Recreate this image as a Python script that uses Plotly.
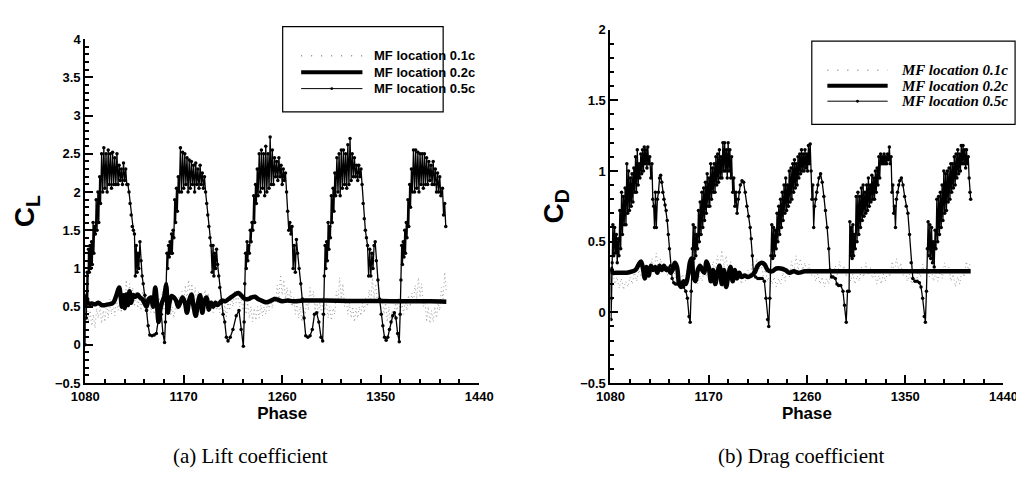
import plotly.graph_objects as go

W, H = 1024, 477

# ---------------- Lift coefficient (C_L) ----------------
cl_x_05 = [1080.0, 1080.4, 1081.0, 1081.6, 1082.3, 1083.0, 1083.7, 1084.4, 1085.1, 1085.8, 1086.5, 1087.2, 1087.9, 1088.6,
           1089.3, 1090.0, 1090.8, 1091.6, 1092.4, 1093.2, 1094.0,
           1095, 1096, 1097, 1098, 1099, 1100, 1101, 1102, 1103, 1104, 1105, 1106, 1107, 1108, 1109, 1110, 1111, 1112,
           1113, 1114, 1115, 1116, 1117, 1118,
           1119, 1120, 1121, 1122, 1123, 1124, 1125, 1125.8, 1126.6, 1127.4, 1128.2, 1129, 1130, 1131, 1132, 1133,
           1134.5, 1136, 1137.5, 1139, 1141, 1143, 1145, 1146.5, 1148, 1149.5, 1151, 1152.5,
           1153.3, 1154, 1154.7, 1155.4, 1156.1, 1156.8, 1157.5, 1158.2, 1158.9, 1159.6, 1160.3, 1161, 1161.8, 1162.6,
           1163.4, 1164.2, 1165,
           1166, 1167, 1168, 1169, 1170, 1171, 1172, 1173, 1174, 1175, 1176, 1177, 1178, 1179, 1180, 1181, 1182, 1183,
           1184, 1185, 1186, 1187, 1188, 1189,
           1190, 1191, 1192, 1193, 1194, 1195, 1196, 1196.8, 1197.6, 1198.4, 1199.2, 1200, 1201, 1202, 1203, 1204.5,
           1206, 1207.5, 1209, 1210.5, 1212.5, 1215, 1218, 1220.5, 1222.5, 1224.5,
           1225.2, 1225.8, 1226.5, 1227.2, 1227.9, 1228.6, 1229.3, 1230, 1230.8, 1231.6, 1232.4, 1233.2, 1234, 1234.8,
           1235.6, 1236.4, 1237.2, 1238,
           1239, 1240, 1241, 1242, 1243, 1244, 1245, 1246, 1247, 1248, 1249, 1250, 1251, 1252, 1253, 1254, 1255, 1256,
           1257, 1258, 1259, 1260, 1261, 1262, 1263, 1264,
           1265, 1266, 1267, 1268, 1269, 1270, 1271, 1272, 1273, 1274, 1275.5, 1277, 1278.5, 1280, 1281.5, 1283.5,
           1285.5, 1287.5, 1289.5, 1291.5, 1293.5, 1295.5, 1297,
           1297.8, 1298.5, 1299.2, 1299.9, 1300.6, 1301.3, 1302, 1302.7, 1303.4, 1304.1, 1304.9, 1305.7, 1306.5, 1307.3,
           1308.1, 1308.9,
           1310, 1311, 1312, 1313, 1314, 1315, 1316, 1317, 1318, 1319, 1320, 1321, 1322, 1323, 1324, 1325, 1326, 1327,
           1328, 1329, 1330, 1331, 1332, 1333,
           1334, 1335, 1336, 1337, 1338, 1339, 1340, 1341, 1342, 1343, 1344, 1345, 1346, 1347.5, 1349, 1350.5, 1352,
           1353.5, 1355, 1356.5, 1358, 1359.5, 1361, 1362.5, 1364, 1365.5, 1367,
           1367.8, 1368.5, 1369.2, 1369.9, 1370.6, 1371.3, 1372, 1372.7, 1373.4, 1374.1, 1374.9, 1375.7, 1376.5, 1377.3,
           1378.1, 1378.9,
           1380, 1381, 1382, 1383, 1384, 1385, 1386, 1387, 1388, 1389, 1390, 1391, 1392, 1393, 1394, 1395, 1396, 1397,
           1398, 1399, 1400, 1401, 1402, 1403, 1404, 1405, 1406.5, 1407.5, 1408.5, 1409.5]
cl_y_05 = [0.0, 0.65, 0.35, 0.95, 0.6, 1.25, 0.95, 1.3, 1.0, 1.35, 1.05, 1.6, 1.2, 1.55,
           1.45, 1.9, 1.5, 2.0, 1.6, 2.2, 1.85,
           2.5, 2.0, 2.58, 2.05, 2.5, 2.0, 2.55, 2.1, 2.5, 2.05, 2.52, 2.1, 2.45, 2.1, 2.5, 2.1, 2.35, 2.15,
           2.3, 2.1, 2.38, 2.15, 2.3, 2.1,
           2.1, 2.0, 1.85, 1.7, 1.55, 1.5, 1.45, 0.9, 1.3, 0.95, 1.2, 1.0, 1.35, 1.1, 0.9, 0.8,
           0.65, 0.45, 0.25, 0.13, 0.12, 0.13, 0.15, 0.3, 0.45, 0.4, 0.15, 0.03,
           0.3, 0.8, 1.2, 1.0, 1.3, 1.15, 1.35, 1.2, 1.45, 1.2, 1.5, 1.4, 1.9, 1.6,
           2.05, 1.75, 2.2,
           2.0, 2.58, 2.0, 2.52, 2.05, 2.5, 2.1, 2.45, 2.0, 2.42, 2.05, 2.4, 2.1, 2.35, 2.0, 2.38, 2.1, 2.3,
           2.05, 2.35, 2.1, 2.25, 2.05, 2.2,
           2.0, 1.85, 1.7, 1.55, 1.4, 1.3, 0.95, 1.3, 0.9, 1.2, 1.0, 1.25, 1.05, 0.9, 0.75, 0.55,
           0.4, 0.3, 0.1, 0.05, 0.1, 0.2, 0.38, 0.45, 0.2, -0.02,
           0.3, 0.8, 1.2, 1.0, 1.35, 1.1, 1.3, 1.2, 1.5, 1.35, 1.6, 1.5, 1.95, 1.6,
           2.1, 1.85, 2.3, 1.95,
           2.5, 2.0, 2.55, 2.05, 2.5, 1.95, 2.6, 2.0, 2.5, 2.05, 2.72, 2.1, 2.55, 2.1, 2.45, 2.2, 2.4, 2.15,
           2.45, 2.2, 2.35, 2.1, 2.3, 2.15, 2.25, 2.0,
           1.75, 1.5, 1.6, 1.45, 1.55, 1.0, 1.3, 0.95, 1.38, 1.2, 1.0, 0.8, 0.6, 0.35, 0.12, 0.1,
           0.12, 0.2, 0.4, 0.42, 0.3, 0.1, 0.05,
           0.4, 0.9, 1.3, 1.0, 1.35, 1.1, 1.6, 1.25, 1.55, 1.4, 1.95, 1.6, 2.05, 1.75,
           2.25, 1.95,
           2.45, 2.0, 2.5, 1.95, 2.55, 2.05, 2.55, 2.1, 2.5, 2.05, 2.62, 2.1, 2.7, 2.15, 2.5, 2.2, 2.45, 2.2,
           2.35, 2.15, 2.35, 2.2, 2.3, 2.1,
           1.85, 1.65, 1.5, 1.4, 1.3, 0.9, 1.25, 0.9, 1.2, 1.0, 1.3, 1.35, 1.1, 0.85, 0.6, 0.4, 0.25,
           0.1, 0.06, 0.1, 0.2, 0.3, 0.38, 0.42, 0.35, 0.15, 0.04,
           0.4, 0.85, 1.3, 1.05, 1.35, 1.15, 1.5, 1.2, 1.6, 1.4, 1.9, 1.55, 2.1, 1.8,
           2.3, 2.0,
           2.55, 2.0, 2.55, 2.05, 2.52, 2.0, 2.5, 2.1, 2.5, 2.05, 2.5, 2.1, 2.45, 2.1, 2.4, 2.15, 2.35, 2.1,
           2.4, 2.1, 2.3, 2.0, 2.25, 2.0, 2.2, 1.95, 2.05, 1.7, 1.85, 1.55]

cl_x_02 = [1080, 1080.5, 1081.5, 1083, 1086, 1089, 1092, 1095, 1098, 1101, 1104, 1106, 1108.5, 1111, 1112.5, 1113.5,
           1115, 1116, 1117.5, 1119, 1120.5, 1122, 1124, 1126, 1128, 1130, 1132, 1134, 1136, 1138, 1140, 1142,
           1144, 1145.5, 1147, 1148.5, 1150, 1152, 1154, 1155.5, 1157, 1159, 1161, 1163, 1165, 1167, 1169, 1171,
           1173, 1175, 1177, 1179, 1181, 1183, 1185, 1187, 1189, 1191, 1193, 1195, 1197, 1199, 1201, 1203, 1205,
           1208, 1211, 1214, 1217, 1220, 1223, 1226, 1229, 1232, 1235, 1238, 1241, 1244, 1247, 1250, 1253, 1256,
           1260, 1265, 1270, 1280, 1300, 1320, 1340, 1360, 1380, 1395, 1410]
cl_y_02 = [0.5, 0.62, 0.58, 0.54, 0.54, 0.53, 0.55, 0.52, 0.52, 0.53, 0.54, 0.56, 0.65, 0.75, 0.62, 0.5,
           0.65, 0.48, 0.66, 0.52, 0.7, 0.55, 0.65, 0.63, 0.66, 0.62, 0.6, 0.55, 0.5, 0.6, 0.62, 0.5,
           0.75, 0.55, 0.3, 0.45, 0.55, 0.62, 0.78, 0.42, 0.55, 0.64, 0.62, 0.58, 0.5, 0.56, 0.62, 0.56,
           0.42, 0.58, 0.66, 0.5, 0.38, 0.55, 0.65, 0.42, 0.58, 0.62, 0.46, 0.55, 0.5, 0.55, 0.52, 0.55, 0.58,
           0.57, 0.6, 0.63, 0.66, 0.68, 0.64, 0.6, 0.6, 0.62, 0.63, 0.6, 0.58, 0.56, 0.56, 0.58, 0.6, 0.59,
           0.57, 0.58, 0.57, 0.58, 0.58, 0.575, 0.575, 0.57, 0.57, 0.57, 0.565]

cl_x_01 = [1082, 1083, 1084.5, 1086, 1087.5, 1089, 1090.5, 1092, 1093.5, 1095, 1096.5, 1098, 1099.5, 1101, 1102.5,
           1104, 1105.5, 1107, 1108.5, 1110, 1111.5, 1113, 1114.5, 1116, 1117.5, 1119, 1120.5, 1122, 1123.5, 1125,
           1126.5, 1128, 1129.5, 1131, 1132.5, 1134, 1135.5, 1137, 1138.5, 1140, 1141.5, 1143, 1144.5, 1146, 1147.5,
           1149, 1150.5, 1152, 1153.5, 1155, 1156.5, 1158, 1159.5, 1161, 1162.5, 1164, 1165.5, 1167, 1168.5, 1170,
           1171.5, 1173, 1174.5, 1176, 1177.5, 1179, 1180.5, 1182, 1183.5, 1185, 1186.5, 1188, 1189.5, 1191, 1192.5,
           1194, 1195.5, 1197, 1198.5, 1200, 1201.5, 1203, 1204.5, 1206, 1207.5, 1209, 1210.5, 1212, 1213.5, 1215,
           1216.5, 1218, 1219.5, 1221, 1222.5, 1224, 1225.5, 1227, 1228.5, 1230, 1231.5, 1233, 1234.5, 1236, 1237.5,
           1239, 1240.5, 1242, 1243.5, 1245, 1246.5, 1248, 1249.5, 1251, 1252.5, 1254, 1255.5, 1257, 1258.5, 1260,
           1261.5, 1263, 1264.5, 1266, 1267.5, 1269, 1270.5, 1272, 1273.5, 1275, 1276.5, 1278, 1279.5, 1281, 1282.5,
           1284, 1285.5, 1287, 1288.5, 1290, 1291.5, 1293, 1294.5, 1296, 1297.5, 1299, 1300.5, 1302, 1303.5, 1305,
           1306.5, 1308, 1309.5, 1311, 1312.5, 1314, 1315.5, 1317, 1318.5, 1320, 1321.5, 1323, 1324.5, 1326, 1327.5,
           1329, 1330.5, 1332, 1333.5, 1335, 1336.5, 1338, 1339.5, 1341, 1342.5, 1344, 1345.5, 1347, 1348.5, 1350,
           1351.5, 1353, 1354.5, 1356, 1357.5, 1359, 1360.5, 1362, 1363.5, 1365, 1366.5, 1368, 1369.5, 1371, 1372.5,
           1374, 1375.5, 1377, 1378.5, 1380, 1381.5, 1383, 1384.5, 1386, 1387.5, 1389, 1390.5, 1392, 1393.5, 1395,
           1396.5, 1398, 1399.5, 1401, 1402.5, 1404, 1405.5, 1407, 1408.5, 1410]
cl_y_01 = [0.55, 0.3, 0.45, 0.25, 0.4, 0.22, 0.48, 0.35, 0.5, 0.28, 0.45, 0.3, 0.55, 0.35, 0.6,
           0.4, 0.55, 0.38, 0.62, 0.45, 0.58, 0.42, 0.65, 0.5, 0.85, 0.6, 0.8, 0.55, 0.75, 0.5,
           0.7, 0.48, 0.62, 0.45, 0.7, 0.5, 0.65, 0.4, 0.6, 0.42, 0.55, 0.4, 0.6, 0.45, 0.62,
           0.5, 0.7, 0.45, 0.6, 0.4, 0.55, 0.38, 0.5, 0.35, 0.5, 0.45, 0.62, 0.5, 0.7, 0.55,
           0.78, 0.6, 0.85, 0.62, 0.8, 0.55, 0.75, 0.5, 0.7, 0.45, 0.68, 0.5, 0.72, 0.55, 0.68,
           0.48, 0.6, 0.42, 0.6, 0.45, 0.55, 0.42, 0.6, 0.38, 0.52, 0.35, 0.58, 0.45, 0.65, 0.5,
           0.7, 0.55, 0.68, 0.5, 0.62, 0.45, 0.58, 0.4, 0.55, 0.35, 0.5, 0.3, 0.48, 0.32, 0.5,
           0.35, 0.52, 0.38, 0.5, 0.4, 0.55, 0.45, 0.6, 0.48, 0.65, 0.55, 0.78, 0.6, 0.92, 0.65,
           0.85, 0.6, 0.75, 0.55, 0.72, 0.5, 0.62, 0.4, 0.55, 0.35, 0.5, 0.3, 0.48, 0.4, 0.6,
           0.45, 0.75, 0.55, 0.7, 0.45, 0.6, 0.4, 0.55, 0.38, 0.62, 0.45, 0.55, 0.35, 0.5, 0.32,
           0.48, 0.4, 0.7, 0.55, 0.88, 0.6, 0.8, 0.5, 0.6, 0.4, 0.55, 0.35, 0.5, 0.3, 0.48,
           0.35, 0.5, 0.38, 0.55, 0.42, 0.62, 0.5, 0.72, 0.55, 0.88, 0.6, 0.8, 0.55, 0.7, 0.5,
           0.62, 0.4, 0.55, 0.3, 0.5, 0.28, 0.45, 0.35, 0.55, 0.45, 0.62, 0.42, 0.55, 0.4, 0.6,
           0.45, 0.65, 0.5, 0.68, 0.55, 0.78, 0.6, 0.88, 0.62, 0.8, 0.5, 0.6, 0.3, 0.5, 0.28,
           0.45, 0.3, 0.5, 0.35, 0.55, 0.45, 0.75, 0.6, 0.95, 0.7]

# ---------------- Drag coefficient (C_D) ----------------
cd_x_05 = [1080, 1080.5, 1081, 1081.5, 1082.2, 1083, 1083.8, 1084.6, 1085.4, 1086.2, 1087, 1087.8, 1088.6, 1089.4,
           1090.2, 1091, 1091.8, 1092.6, 1093.4, 1094.2, 1095, 1095.8, 1096.6, 1097.4, 1098.2, 1099, 1099.8, 1100.6,
           1101.4, 1102.2, 1103, 1103.8, 1104.6, 1105.4, 1106.2, 1107, 1107.8, 1108.6, 1109.4, 1110.2, 1111, 1111.8,
           1112.6, 1113.4, 1114.2, 1115, 1116, 1117, 1118, 1118.8, 1119.6, 1120.4, 1121.2, 1122, 1123, 1124, 1125,
           1126, 1127, 1128, 1129, 1130, 1131, 1132, 1133, 1134, 1135, 1136.5, 1138, 1139.5, 1141, 1143, 1145, 1147,
           1149, 1150.5, 1152, 1153, 1154,
           1155, 1155.8, 1156.6, 1157.4, 1158.2, 1159, 1159.8, 1160.6, 1161.4, 1162.2, 1163, 1163.8, 1164.6, 1165.4,
           1166.2, 1167, 1167.8, 1168.6, 1169.4, 1170.2, 1171, 1171.8, 1172.6, 1173.4, 1174.2, 1175, 1175.8, 1176.6,
           1177.4, 1178.2, 1179, 1179.8, 1180.6, 1181.4, 1182.2, 1183, 1183.8, 1184.6, 1185.4, 1186.2, 1187, 1187.8,
           1188.6, 1189.4, 1190.2, 1191, 1192, 1193, 1194, 1195, 1196, 1197, 1198, 1199, 1200.5, 1202, 1203.5, 1205,
           1206.5, 1208, 1209, 1210, 1211, 1213, 1215, 1217, 1219, 1221, 1222.5, 1224, 1225, 1226,
           1227, 1227.8, 1228.6, 1229.4, 1230.2, 1231, 1231.8, 1232.6, 1233.4, 1234.2, 1235, 1235.8, 1236.6, 1237.4,
           1238.2, 1239, 1239.8, 1240.6, 1241.4, 1242.2, 1243, 1243.8, 1244.6, 1245.4, 1246.2, 1247, 1247.8, 1248.6,
           1249.4, 1250.2, 1251, 1251.8, 1252.6, 1253.4, 1254.2, 1255, 1255.8, 1256.6, 1257.4, 1258.2, 1259, 1259.8,
           1260.6, 1261.4, 1262.2, 1263, 1263.8, 1264.6, 1265.4, 1266.2, 1267, 1268, 1269, 1270, 1271, 1272.5, 1274,
           1275.5, 1277, 1278.5, 1280, 1281, 1282.5, 1284, 1286, 1287.5, 1289, 1291, 1293, 1294.5, 1296, 1297.2,
           1298.6, 1299.3, 1300, 1300.7, 1301.4, 1302.1, 1302.8, 1303.5, 1304.3, 1305.1, 1305.9, 1306.7, 1307.5,
           1308.3, 1309.1, 1309.9, 1310.7, 1311.5, 1312.3, 1313.1, 1313.9, 1314.7, 1315.5, 1316.3, 1317.1, 1317.9,
           1318.7, 1319.5, 1320.3, 1321.1, 1321.9, 1322.7, 1323.5, 1324.3, 1325.1, 1325.9, 1326.7, 1327.5, 1328.3,
           1329.1, 1329.9, 1330.7, 1331.5, 1332.3, 1333.1, 1333.9, 1334.7, 1335.5, 1336.3, 1337.1, 1337.9, 1338.7,
           1339.5, 1340.3, 1341.1, 1342, 1343, 1344, 1345, 1346.5, 1348, 1349.5, 1351, 1352.5, 1354, 1355.5, 1357,
           1359, 1361, 1363, 1364.5, 1366, 1367.5, 1368.5, 1369.5, 1370.3,
           1371, 1371.8, 1372.6, 1373.4, 1374.2, 1375, 1375.8, 1376.6, 1377.4, 1378.2, 1379, 1379.8, 1380.6, 1381.4,
           1382.2, 1383, 1383.8, 1384.6, 1385.4, 1386.2, 1387, 1387.8, 1388.6, 1389.4, 1390.2, 1391, 1391.8, 1392.6,
           1393.4, 1394.2, 1395, 1395.8, 1396.6, 1397.4, 1398.2, 1399, 1399.8, 1400.6, 1401.4, 1402.2, 1403, 1403.8,
           1404.6, 1405.4, 1406.2, 1407, 1407.8, 1408.6, 1409.4, 1410]
cd_y_05 = [0.3, -0.05, 0.1, 0.35, 0.62, 0.4, 0.6, 0.42, 0.55, 0.35, 0.52, 0.4, 0.72, 0.45,
           0.85, 0.55, 0.82, 0.62, 0.88, 0.62, 1.05, 0.7, 1.0, 0.72, 0.95, 0.75, 0.98, 0.78,
           1.02, 0.85, 1.1, 0.85, 1.15, 0.9, 1.05, 0.95, 1.12, 0.98, 1.15, 1.0, 1.17, 1.05,
           1.15, 1.02, 1.17, 1.05, 1.1, 0.95, 1.05, 0.8, 0.75, 0.6, 0.85, 0.6, 0.8, 0.85, 0.95,
           0.97, 0.92, 0.85, 0.8, 0.76, 0.72, 0.65, 0.55, 0.45, 0.33, 0.24, 0.21, 0.2, 0.2, 0.2, 0.19, 0.18,
           0.15, 0.1, -0.03, -0.07, 0.15,
           0.45, 0.62, 0.38, 0.6, 0.4, 0.55, 0.45, 0.72, 0.5, 0.78, 0.55, 0.85, 0.6, 0.88,
           0.65, 0.92, 0.7, 0.98, 0.75, 0.95, 0.75, 1.05, 0.8, 1.02, 0.85, 1.05, 0.85, 1.1,
           0.9, 1.12, 0.92, 1.15, 0.95, 1.1, 0.95, 1.2, 1.0, 1.2, 1.0, 1.15, 0.95, 1.2,
           1.0, 1.15, 0.95, 1.1, 0.85, 0.95, 0.75, 0.85, 0.7, 0.8, 0.85, 0.9, 0.93, 0.92, 0.85, 0.75,
           0.68, 0.6, 0.52, 0.4, 0.28, 0.25, 0.24, 0.24, 0.24, 0.22, 0.1, -0.05, -0.1, 0.1,
           0.4, 0.62, 0.38, 0.6, 0.4, 0.58, 0.45, 0.7, 0.5, 0.75, 0.55, 0.8, 0.6, 0.85,
           0.65, 0.9, 0.7, 0.95, 0.72, 0.9, 0.75, 1.0, 0.78, 1.02, 0.8, 1.05, 0.85, 1.08,
           0.88, 1.05, 0.9, 1.1, 0.95, 1.12, 0.98, 1.15, 1.0, 1.12, 1.0, 1.15, 1.02, 1.12,
           1.0, 1.18, 1.05, 1.19, 1.0, 0.8, 0.9, 0.6, 0.75, 0.8, 0.85, 0.9, 0.95, 0.98, 0.92,
           0.82, 0.72, 0.6, 0.45, 0.3, 0.25, 0.25, 0.24, 0.2, 0.19, 0.19, 0.15, 0.05, -0.07, 0.15,
           0.15, 0.64, 0.4, 0.6, 0.38, 0.62, 0.4, 0.55, 0.45, 0.82, 0.5, 0.85, 0.55,
           0.82, 0.6, 0.88, 0.65, 0.9, 0.68, 0.85, 0.7, 0.9, 0.72, 0.95, 0.75, 0.9,
           0.78, 0.97, 0.8, 0.95, 0.8, 1.0, 0.85, 1.02, 0.9, 1.1, 0.95, 1.12, 1.05,
           1.1, 1.05, 1.12, 1.05, 1.1, 1.05, 1.12, 1.08, 1.17, 1.05, 1.1, 0.85, 0.9,
           0.7, 0.75, 0.6, 0.8, 0.85, 0.9, 0.93, 0.95, 0.9, 0.82, 0.75, 0.7, 0.55, 0.35, 0.24,
           0.22, 0.22, 0.21, 0.18, 0.1, -0.03, -0.07, 0.15, 0.45,
           0.64, 0.4, 0.62, 0.38, 0.6, 0.35, 0.5, 0.32, 0.58, 0.45, 0.8, 0.5, 0.82, 0.55,
           0.85, 0.6, 0.9, 0.65, 1.0, 0.7, 0.98, 0.72, 1.0, 0.78, 1.02, 0.8, 1.05, 0.85,
           1.05, 0.88, 1.1, 0.9, 1.12, 0.95, 1.15, 0.98, 1.12, 1.0, 1.18, 1.05, 1.18, 1.05,
           1.15, 1.02, 1.15, 1.05, 1.1, 0.95, 0.85, 0.8]

cd_x_02 = [1080, 1081, 1082, 1085, 1090, 1095, 1100, 1103, 1106, 1108, 1110, 1111.5, 1113, 1115, 1117, 1119, 1121,
           1123, 1125, 1127, 1129, 1131, 1133, 1135, 1137, 1139, 1141, 1143, 1145, 1147, 1149, 1151, 1153, 1154.5,
           1156, 1158, 1160, 1162, 1164, 1166, 1168, 1170, 1172, 1174, 1176, 1178, 1180, 1182, 1184, 1186, 1188,
           1190, 1192, 1194, 1196, 1198, 1200, 1203, 1206, 1209, 1212, 1215, 1218, 1221, 1224, 1228, 1232, 1236,
           1240, 1244, 1248, 1252, 1258, 1265, 1275, 1290, 1310, 1330, 1350, 1370, 1390, 1410]
cd_y_02 = [0.32, 0.3, 0.28, 0.28, 0.28, 0.28, 0.29, 0.3, 0.34, 0.36, 0.3, 0.24, 0.32, 0.26, 0.33, 0.3, 0.32,
           0.28, 0.33, 0.3, 0.33, 0.3, 0.31, 0.28, 0.3, 0.35, 0.32, 0.2, 0.18, 0.22, 0.2, 0.26, 0.36, 0.38,
           0.25, 0.22, 0.3, 0.33, 0.3, 0.28, 0.36, 0.32, 0.22, 0.3, 0.2, 0.28, 0.33, 0.2, 0.3, 0.18, 0.26,
           0.32, 0.22, 0.3, 0.24, 0.28, 0.25, 0.26, 0.25, 0.26, 0.28, 0.33, 0.35, 0.34, 0.3, 0.29, 0.31, 0.31,
           0.3, 0.28, 0.29, 0.28, 0.29, 0.29, 0.29, 0.29, 0.29, 0.29, 0.29, 0.29, 0.29, 0.29]

cd_x_01 = [1082, 1084, 1086, 1088, 1090, 1092, 1094, 1096, 1098, 1100, 1102, 1104, 1106, 1108, 1110, 1112, 1114,
           1116, 1118, 1120, 1122, 1124, 1126, 1128, 1130, 1132, 1134, 1136, 1138, 1140, 1142, 1144, 1146, 1148,
           1150, 1152, 1154, 1156, 1158, 1160, 1162, 1164, 1166, 1168, 1170, 1172, 1174, 1176, 1178, 1180, 1182,
           1184, 1186, 1188, 1190, 1192, 1194, 1196, 1198, 1200, 1202, 1204, 1206, 1208, 1210, 1212, 1214, 1216,
           1218, 1220, 1222, 1224, 1226, 1228, 1230, 1232, 1234, 1236, 1238, 1240, 1242, 1244, 1246, 1248, 1250,
           1252, 1254, 1256, 1258, 1260, 1262, 1264, 1266, 1268, 1270, 1272, 1274, 1276, 1278, 1280, 1282, 1284,
           1286, 1288, 1290, 1292, 1294, 1296, 1298, 1300, 1302, 1304, 1306, 1308, 1310, 1312, 1314, 1316, 1318,
           1320, 1322, 1324, 1326, 1328, 1330, 1332, 1334, 1336, 1338, 1340, 1342, 1344, 1346, 1348, 1350, 1352,
           1354, 1356, 1358, 1360, 1362, 1364, 1366, 1368, 1370, 1372, 1374, 1376, 1378, 1380, 1382, 1384, 1386,
           1388, 1390, 1392, 1394, 1396, 1398, 1400, 1402, 1404, 1406, 1408, 1410]
cd_y_01 = [0.3, 0.2, 0.25, 0.17, 0.24, 0.16, 0.22, 0.18, 0.25, 0.2, 0.28, 0.22, 0.3, 0.25, 0.33, 0.26, 0.32,
           0.27, 0.38, 0.3, 0.42, 0.3, 0.38, 0.28, 0.34, 0.26, 0.32, 0.24, 0.3, 0.22, 0.28, 0.2, 0.27, 0.22,
           0.3, 0.24, 0.32, 0.22, 0.28, 0.2, 0.26, 0.22, 0.3, 0.25, 0.33, 0.27, 0.36, 0.28, 0.4, 0.3, 0.44,
           0.32, 0.4, 0.28, 0.36, 0.25, 0.3, 0.22, 0.28, 0.2, 0.26, 0.22, 0.3, 0.25, 0.35, 0.28, 0.38, 0.3,
           0.34, 0.26, 0.3, 0.22, 0.27, 0.2, 0.25, 0.18, 0.24, 0.2, 0.28, 0.22, 0.32, 0.25, 0.36, 0.28, 0.4,
           0.3, 0.38, 0.3, 0.35, 0.28, 0.34, 0.26, 0.3, 0.22, 0.27, 0.2, 0.25, 0.18, 0.24, 0.2, 0.3, 0.24,
           0.33, 0.26, 0.36, 0.28, 0.33, 0.25, 0.3, 0.22, 0.27, 0.2, 0.26, 0.22, 0.32, 0.25, 0.35, 0.27, 0.32,
           0.24, 0.28, 0.2, 0.26, 0.2, 0.27, 0.22, 0.3, 0.25, 0.36, 0.28, 0.38, 0.3, 0.35, 0.26, 0.3, 0.22,
           0.27, 0.2, 0.25, 0.2, 0.3, 0.25, 0.34, 0.27, 0.32, 0.25, 0.3, 0.22, 0.28, 0.22, 0.3, 0.24, 0.35,
           0.28, 0.32, 0.22, 0.27, 0.18, 0.25, 0.2, 0.3, 0.25, 0.36, 0.3, 0.36]

x_ticks = [1080, 1170, 1260, 1350, 1440]
series_names = ["MF location 0.1c", "MF location 0.2c", "MF location 0.5c"]


def px(x):
    return x / W


def py(y):
    return 1 - y / H


fig = go.Figure()

# left panel traces
fig.add_trace(go.Scatter(x=cl_x_01, y=cl_y_01, mode="lines", line=dict(color="#9c9c9c", width=1, dash="1px,3px"),
                         showlegend=False, xaxis="x", yaxis="y"))
fig.add_trace(go.Scatter(x=cl_x_05, y=cl_y_05, mode="lines+markers", line=dict(color="black", width=1.3),
                         marker=dict(color="black", size=3.5), showlegend=False, xaxis="x", yaxis="y"))
fig.add_trace(go.Scatter(x=cl_x_02, y=cl_y_02, mode="lines", line=dict(color="black", width=4.5, shape="spline"),
                         showlegend=False, xaxis="x", yaxis="y"))

# right panel traces
fig.add_trace(go.Scatter(x=cd_x_01, y=cd_y_01, mode="lines", line=dict(color="#9c9c9c", width=1, dash="1px,3px"),
                         showlegend=False, xaxis="x2", yaxis="y2"))
fig.add_trace(go.Scatter(x=cd_x_05, y=cd_y_05, mode="lines+markers", line=dict(color="black", width=1.3),
                         marker=dict(color="black", size=3.5), showlegend=False, xaxis="x2", yaxis="y2"))
fig.add_trace(go.Scatter(x=cd_x_02, y=cd_y_02, mode="lines", line=dict(color="black", width=4.5, shape="spline"),
                         showlegend=False, xaxis="x2", yaxis="y2"))

tick_font = dict(family="Liberation Sans, Arial", size=13, color="black", weight="bold")

xaxis_common = dict(range=[1080, 1440], tickvals=x_ticks, ticks="inside", ticklen=8, tickwidth=1.5,
                    tickcolor="black", showline=True, linecolor="black", linewidth=2, showgrid=False,
                    zeroline=False, tickfont=tick_font,
                    minor=dict(dtick=18, ticks="inside", ticklen=4, tickcolor="black", showgrid=False),
                    title=dict(text="Phase", font=dict(family="Liberation Sans, Arial", size=17, color="black",
                                                       weight="bold"), standoff=0))
yaxis_common = dict(ticks="inside", ticklen=8, tickwidth=1.5, tickcolor="black", showline=True,
                    linecolor="black", linewidth=2, showgrid=False, zeroline=False, tickfont=tick_font,
                    minor=dict(dtick=0.1, ticks="inside", ticklen=4, tickcolor="black", showgrid=False))

fig.update_layout(
    width=W, height=H,
    margin=dict(l=0, r=0, t=0, b=0),
    paper_bgcolor="white", plot_bgcolor="white",
    xaxis=dict(domain=[px(65), px(470)], anchor="y", **xaxis_common),
    yaxis=dict(domain=[py(380), py(25)], anchor="x", range=[-0.5, 4], dtick=0.5,
               title=dict(text="C<sub>L</sub>", font=dict(family="Liberation Sans, Arial", size=28,
                                                          color="black", weight="bold"), standoff=12),
               **yaxis_common),
    xaxis2=dict(domain=[px(605), px(1009)], anchor="y2", **xaxis_common),
    yaxis2=dict(domain=[py(380), py(15)], anchor="x2", range=[-0.5, 2], dtick=0.5,
                title=dict(text="C<sub>D</sub>", font=dict(family="Liberation Sans, Arial", size=28,
                                                           color="black", weight="bold"), standoff=8),
                **yaxis_common),
)

shapes = []
annotations = []


def add_legend(box, rows, sample, text_x, font):
    x0, x1, y0, y1 = box
    shapes.append(dict(type="rect", xref="paper", yref="paper", x0=px(x0), x1=px(x1), y0=py(y1), y1=py(y0),
                       line=dict(color="black", width=1.2), fillcolor="white", layer="above"))
    s0, s1 = sample
    styles = [dict(color="#8a8a8a", width=1.5, dash="1px,9px"),
              dict(color="black", width=4),
              dict(color="black", width=1)]
    for name, ry, st in zip(series_names, rows, styles):
        shapes.append(dict(type="line", xref="paper", yref="paper", x0=px(s0), x1=px(s1), y0=py(ry), y1=py(ry),
                           line=st, layer="above"))
        annotations.append(dict(text=name, xref="paper", yref="paper", x=px(text_x), y=py(ry), xanchor="left",
                                yanchor="middle", showarrow=False, font=font))
    mid = (s0 + s1) / 2
    shapes.append(dict(type="circle", xref="paper", yref="paper", x0=px(mid - 1.5), x1=px(mid + 1.5),
                       y0=py(rows[2] + 1.5), y1=py(rows[2] - 1.5), fillcolor="black",
                       line=dict(color="black", width=0), layer="above"))


add_legend((268, 433, 12, 100), (42, 59, 76), (287, 350), 360,
           dict(family="Liberation Sans, Arial", size=13, color="black", weight="bold"))
add_legend((812, 1021, 27, 113), (57, 73, 89), (828, 890), 902,
           dict(family="Liberation Serif, Times New Roman", size=15, color="black", weight="bold", style="italic"))

annotations.append(dict(text="(a) Lift coefficient", xref="paper", yref="paper", x=px(235), y=py(455),
                        xanchor="center", yanchor="middle", showarrow=False,
                        font=dict(family="Liberation Serif, Times New Roman", size=21, color="black")))
annotations.append(dict(text="(b) Drag coefficient", xref="paper", yref="paper", x=px(801), y=py(455),
                        xanchor="center", yanchor="middle", showarrow=False,
                        font=dict(family="Liberation Serif, Times New Roman", size=21, color="black")))

fig.update_layout(shapes=shapes, annotations=annotations)

fig.write_html("out.html")
